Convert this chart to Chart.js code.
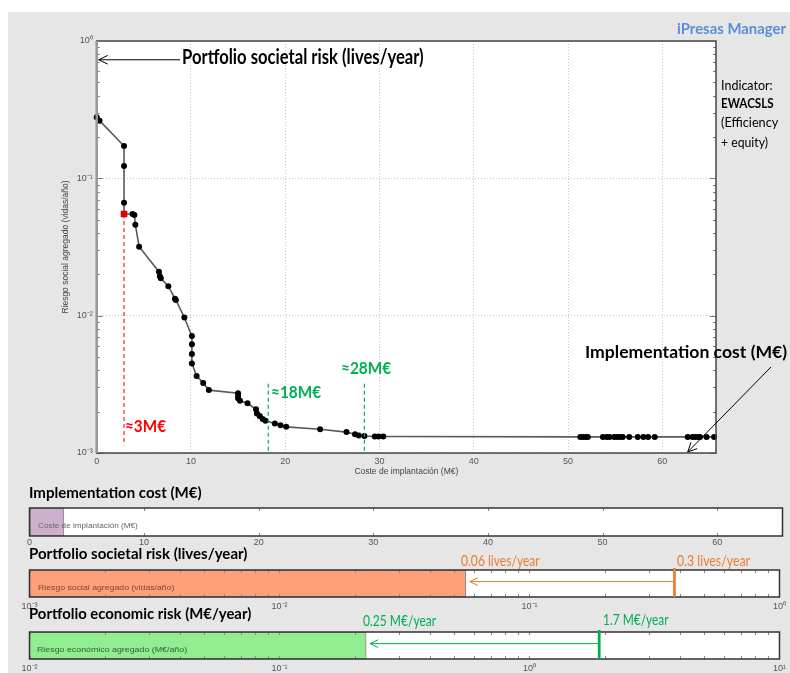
<!DOCTYPE html>
<html>
<head>
<meta charset="utf-8">
<script src="https://cdn.jsdelivr.net/npm/chart.js@4.4.0/dist/chart.umd.min.js"></script>
<style>
  body { margin:0; background:#fff; width:790px; height:673px; position:relative; overflow:hidden; font-family: Lato, "Liberation Sans", sans-serif; }
  #panel { position:absolute; left:8px; top:12px; width:782px; height:661px; background:#e6e6e6; }
  canvas { position:absolute; left:0; }
  .t { position:absolute; white-space:nowrap; line-height:1; transform-origin:0 50%; }
  .b { font-weight:bold; }
  .s { font-family:"Liberation Sans", sans-serif; font-size:8px; }
</style>
</head>
<body>
<div id="panel"></div>
<canvas id="main" width="790" height="480" style="top:0"></canvas>
<canvas id="cost" width="790" height="50" style="top:500px"></canvas>
<canvas id="social" width="790" height="52" style="top:560px"></canvas>
<canvas id="econ" width="790" height="51" style="top:622px"></canvas>

<div class="t b" style="left:677px; top:28px; font-size:16px; color:#5b8ed6" data-w="109">iPresas Manager</div>
<div class="t b" style="left:182px; top:56px; font-size:20px" data-w="242">Portfolio societal risk (lives/year)</div>
<div class="t" style="left:721px; top:86px; font-size:12.5px" data-w="52">Indicator:</div>
<div class="t b" style="left:721px; top:104px; font-size:12.5px" data-w="53">EWACSLS</div>
<div class="t" style="left:721px; top:123px; font-size:12.5px" data-w="57">(Efficiency</div>
<div class="t" style="left:721px; top:143px; font-size:12.5px" data-w="47">+ equity)</div>
<div class="t b" style="left:585px; top:351px; font-size:17px" data-w="202">Implementation cost (M€)</div>
<div class="t b" style="left:341px; top:368px; font-size:17.5px; color:#00b050" data-w="50">≈28M€</div>
<div class="t b" style="left:271px; top:392px; font-size:17.5px; color:#00b050" data-w="50">≈18M€</div>
<div class="t b" style="left:125px; top:426px; font-size:17.5px; color:#ff0000" data-w="41">≈3M€</div>

<div class="t b" style="left:29px; top:492px; font-size:16px" data-w="173">Implementation cost (M€)</div>
<div class="t s" style="left:38px; top:526px; color:#666" data-w="100">Coste de implantación (M€)</div>
<div class="t b" style="left:29px; top:553px; font-size:16px" data-w="218">Portfolio societal risk (lives/year)</div>
<div class="t" style="left:461px; top:560px; font-size:15px; color:#ed7d31" data-w="79">0.06 lives/year</div>
<div class="t" style="left:677px; top:560px; font-size:15px; color:#ed7d31" data-w="73">0.3 lives/year</div>
<div class="t s" style="left:38px; top:588px; color:#7a4a30" data-w="136">Riesgo social agregado (vidas/año)</div>
<div class="t b" style="left:29px; top:613px; font-size:16px" data-w="222">Portfolio economic risk (M€/year)</div>
<div class="t" style="left:363px; top:620px; font-size:15px; color:#00b050" data-w="73">0.25 M€/year</div>
<div class="t" style="left:603px; top:619px; font-size:15px; color:#00b050" data-w="66">1.7 M€/year</div>
<div class="t s" style="left:37px; top:650px; color:#355a35" data-w="150">Riesgo económico agregado (M€/año)</div>

<script>
// pareto front: implementation cost (M€) vs societal risk (lives/year)
const costX = [0, 0.3, 2.9, 2.9, 2.9, 2.9, 3.8, 4.0, 4.1, 4.5, 6.6, 6.7, 6.8, 7.6, 8.3, 8.4, 9.3,
  10.1, 10.1, 10.1, 10.1, 10.6, 11.3, 11.9, 15.0, 15.0, 15.0, 15.2, 16.0, 16.9, 17.0, 17.3, 17.6, 17.9,
  18.9, 19.5, 20.1, 23.7, 26.5, 27.4, 27.8, 28.4, 29.5, 29.9, 30.4,
  51.3, 51.6, 51.9, 52.1, 53.7, 54.1, 54.4, 54.9, 55.2, 55.5, 55.8, 56.5, 57.4, 58.0, 58.5, 59.2,
  62.7, 63.2, 63.5, 63.8, 64.0, 64.7, 65.5];
const riskY = [0.278, 0.263, 0.172, 0.123, 0.0664, 0.055, 0.055, 0.054, 0.046, 0.0318, 0.0209, 0.0194, 0.0187, 0.0164, 0.0133, 0.013, 0.0097,
  0.0071, 0.0062, 0.00525, 0.00449, 0.00363, 0.00324, 0.00287, 0.00272, 0.0026, 0.0025, 0.0024, 0.0023, 0.00208, 0.00194, 0.00186, 0.00177, 0.00172,
  0.00164, 0.00159, 0.00155, 0.00149, 0.00142, 0.00137, 0.00134, 0.00133, 0.00132, 0.00132, 0.00132,
  0.00131, 0.00131, 0.00131, 0.00131, 0.00131, 0.00131, 0.00131, 0.00131, 0.00131, 0.00131, 0.00131, 0.00131, 0.00131, 0.00131, 0.00131, 0.00131,
  0.00131, 0.00131, 0.00131, 0.00131, 0.00131, 0.00131, 0.00131];
const xMax = 65.7;

// selected portfolio (red) and reference costs (green)
const chosenCost = 2.9;
const chosenRisk = 0.055;
const chosenFoot = 0.00114;
const refCosts = [18.2, 28.4];
const refTop = 0.0032;

// summary bars
const budgetRange = [0, 3];
const societalRange = [0.001, 0.0556];
const societalBefore = 0.38;
const economicRange = [0.01, 0.222];
const economicBefore = 1.9;

Chart.defaults.font.family = 'Liberation Sans';
Chart.defaults.font.size = 9;
Chart.defaults.color = '#555';

const supDigits = { '-': '⁻', '0': '⁰', '1': '¹', '2': '²', '3': '³' };
function decadeLabel(v) {
  const e = Math.log10(v);
  if (Math.abs(e - Math.round(e)) > 1e-6) return '';
  return '10' + String(Math.round(e)).split('').map(c => supDigits[c]).join('');
}

function minorValues(scale) {
  if (scale.type !== 'logarithmic') return scale.ticks.map(t => t.value);
  const out = [];
  for (let d = Math.round(Math.log10(scale.min)); d < Math.round(Math.log10(scale.max)); d++) {
    for (let m = 1; m < 10; m++) out.push(m * Math.pow(10, d));
  }
  return out;
}

function arrow(ctx, x1, y1, x2, y2, color, head) {
  ctx.strokeStyle = color;
  ctx.lineWidth = 1;
  ctx.beginPath();
  ctx.moveTo(x1, y1);
  ctx.lineTo(x2, y2);
  const a = Math.atan2(y2 - y1, x2 - x1);
  ctx.moveTo(x2 - head * Math.cos(a - 0.45), y2 - head * Math.sin(a - 0.45));
  ctx.lineTo(x2, y2);
  ctx.lineTo(x2 - head * Math.cos(a + 0.45), y2 - head * Math.sin(a + 0.45));
  ctx.stroke();
}

const whiteArea = {
  id: 'whiteArea',
  beforeDraw(chart) {
    const { ctx, chartArea: a } = chart;
    ctx.save();
    ctx.fillStyle = '#fff';
    ctx.fillRect(a.left, a.top, a.right - a.left, a.bottom - a.top);
    ctx.restore();
  }
};

const mainDeco = {
  id: 'mainDeco',
  afterDraw(chart) {
    const { ctx, chartArea: a, scales: { x, y } } = chart;
    ctx.save();
    ctx.strokeStyle = '#777';
    ctx.lineWidth = 1;
    minorValues(y).forEach(v => {
      const py = Math.round(y.getPixelForValue(v)) + 0.5;
      const len = decadeLabel(v) ? 6 : 3;
      ctx.beginPath();
      ctx.moveTo(a.left, py); ctx.lineTo(a.left + len, py);
      ctx.moveTo(a.right, py); ctx.lineTo(a.right - len, py);
      ctx.stroke();
    });
    ctx.strokeStyle = '#444';
    ctx.lineWidth = 1.5;
    ctx.strokeRect(a.left, a.top, a.right - a.left, a.bottom - a.top);
    ctx.strokeStyle = '#999';
    ctx.lineWidth = 2.5;
    ctx.beginPath(); ctx.moveTo(a.left, a.top); ctx.lineTo(a.left, a.bottom); ctx.stroke();
    const ay = y.getPixelForValue(0.73);
    arrow(ctx, 180, ay, a.left + 2, ay, '#000', 10);
    arrow(ctx, 771, 367, x.getPixelForValue(62.7), a.bottom - 1, '#000', 10);
    ctx.restore();
  }
};

new Chart(document.getElementById('main'), {
  type: 'scatter',
  data: {
    datasets: [
      { data: [{ x: chosenCost, y: chosenRisk }], pointStyle: 'rect', pointRadius: 4.7, backgroundColor: '#e00000', borderWidth: 0, order: 0 },
      { data: [{ x: chosenCost, y: chosenRisk }, { x: chosenCost, y: chosenFoot }], showLine: true, borderColor: '#ff2020', borderWidth: 1.2, borderDash: [4, 3], pointRadius: 0, order: 1 },
      { data: [{ x: refCosts[0], y: refTop }, { x: refCosts[0], y: 0.001 }], showLine: true, borderColor: '#00b050', borderWidth: 1.2, borderDash: [4, 3], pointRadius: 0, order: 1 },
      { data: [{ x: refCosts[1], y: refTop }, { x: refCosts[1], y: 0.001 }], showLine: true, borderColor: '#00b050', borderWidth: 1.2, borderDash: [4, 3], pointRadius: 0, order: 1 },
      { data: costX.map((x, i) => ({ x, y: riskY[i] })), showLine: true, borderColor: '#5a5a5a', borderWidth: 1.6,
        pointRadius: 3, pointBackgroundColor: '#000', pointBorderWidth: 0, clip: 4, order: 2 }
    ]
  },
  options: {
    responsive: false,
    animation: false,
    layout: { padding: { left: 0, top: 41, right: 74, bottom: 0 } },
    plugins: { legend: { display: false }, tooltip: { enabled: false } },
    scales: {
      x: {
        type: 'linear', min: 0, max: xMax,
        afterFit: s => { s.height = 27; },
        ticks: { stepSize: 10, includeBounds: false, padding: 3, maxRotation: 0 },
        grid: { color: '#c4c4c4', drawTicks: false },
        border: { display: false, dash: [1, 2] },
        title: { display: true, text: 'Coste de implantación (M€)', font: { size: 8.5 }, color: '#444', padding: { top: 0, bottom: 3 } }
      },
      y: {
        type: 'logarithmic', min: 0.001, max: 1,
        afterFit: s => { s.width = 96.7; },
        ticks: { autoSkip: false, padding: 4, callback: v => decadeLabel(v) },
        grid: { color: c => decadeLabel(c.tick.value) ? '#c4c4c4' : 'rgba(0,0,0,0)', drawTicks: false },
        border: { display: false, dash: [1, 2] },
        title: { display: true, text: 'Riesgo social agregado (vidas/año)', font: { size: 8.5 }, color: '#444', padding: { top: 61, bottom: 0 } }
      }
    }
  },
  plugins: [whiteArea, mainDeco]
});

function barDeco(before, after, color) {
  return {
    id: 'barDeco',
    afterDraw(chart) {
      const { ctx, chartArea: a, scales: { x } } = chart;
      ctx.save();
      ctx.strokeStyle = '#888';
      ctx.lineWidth = 1;
      minorValues(x).forEach(v => {
        const px = Math.round(x.getPixelForValue(v)) + 0.5;
        ctx.beginPath();
        ctx.moveTo(px, a.top); ctx.lineTo(px, a.top + 3);
        ctx.moveTo(px, a.bottom); ctx.lineTo(px, a.bottom - 3);
        ctx.stroke();
      });
      ctx.strokeStyle = '#333';
      ctx.lineWidth = 1.5;
      ctx.strokeRect(a.left, a.top, a.right - a.left, a.bottom - a.top);
      if (before) {
        const mx = x.getPixelForValue(before);
        const fx = x.getPixelForValue(after);
        const ay = a.top + (a.bottom - a.top) * 0.43;
        arrow(ctx, mx, ay, fx + 4, ay, color, 9);
        ctx.strokeStyle = color;
        ctx.lineWidth = 2.8;
        ctx.beginPath(); ctx.moveTo(mx, a.top - 2); ctx.lineTo(mx, a.bottom); ctx.stroke();
      }
      ctx.restore();
    }
  };
}

function barChart(id, xScale, range, fill, padTop, axisH, tickPad, before, markColor) {
  return new Chart(document.getElementById(id), {
    type: 'bar',
    data: {
      labels: [''],
      datasets: [{ data: [range], backgroundColor: fill, borderColor: '#888', borderWidth: 1, borderSkipped: false,
        barPercentage: 1, categoryPercentage: 1 }]
    },
    options: {
      indexAxis: 'y',
      responsive: false,
      animation: false,
      layout: { padding: { left: 29.5, right: 7.5, top: padTop, bottom: 0 } },
      plugins: { legend: { display: false }, tooltip: { enabled: false } },
      scales: {
        y: { display: false },
        x: Object.assign({
          afterFit: s => { s.height = axisH; },
          grid: { drawOnChartArea: false, drawTicks: false },
          border: { display: false }
        }, xScale, { ticks: Object.assign({ padding: tickPad, maxRotation: 0, autoSkip: false }, xScale.ticks) })
      }
    },
    plugins: [whiteArea, barDeco(before, range[1], markColor)]
  });
}

barChart('cost', { type: 'linear', min: 0, max: xMax, ticks: { stepSize: 10, includeBounds: false } },
  budgetRange, '#cdb0cd', 8, 14, 1, null, null);
barChart('social', { type: 'logarithmic', min: 0.001, max: 1, ticks: { callback: v => decadeLabel(v) } },
  societalRange, '#ffa07a', 10, 15, 4, societalBefore, '#ed7d31');
barChart('econ', { type: 'logarithmic', min: 0.01, max: 10, ticks: { callback: v => decadeLabel(v) } },
  economicRange, '#90ee90', 10, 14, 4, economicBefore, '#00b050');

// squeeze the annotation texts to the width they have in the picture
document.querySelectorAll('.t').forEach(el => {
  const w = parseFloat(el.dataset.w);
  const k = w ? w / el.offsetWidth : 1;
  el.style.transform = `translateY(-50%) scaleX(${k})`;
});
</script>
</body>
</html>
